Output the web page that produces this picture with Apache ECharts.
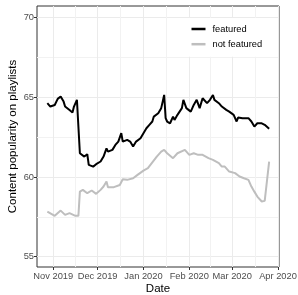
<!DOCTYPE html>
<html>
<head>
<meta charset="utf-8">
<script src="https://cdn.jsdelivr.net/npm/echarts@6/dist/echarts.min.js"></script>
<style>
  html, body { margin: 0; padding: 0; background: #fff; }
  #chart { width: 298px; height: 295px; }
</style>
</head>
<body>
<div id="chart"></div>
<script>
const featuredDates = [
  '2019-10-28','2019-10-30','2019-11-02','2019-11-04','2019-11-06','2019-11-08','2019-11-09','2019-11-10',
  '2019-11-12','2019-11-14','2019-11-15','2019-11-17','2019-11-18','2019-11-19','2019-11-20','2019-11-22',
  '2019-11-24','2019-11-25','2019-11-28','2019-11-30','2019-12-03','2019-12-05','2019-12-07','2019-12-08',
  '2019-12-11','2019-12-13','2019-12-15','2019-12-17','2019-12-18','2019-12-21','2019-12-23','2019-12-25',
  '2019-12-27','2019-12-30','2020-01-01','2020-01-03','2020-01-05','2020-01-07','2020-01-08','2020-01-11',
  '2020-01-12','2020-01-13','2020-01-14','2020-01-15','2020-01-16','2020-01-17','2020-01-19','2020-01-21',
  '2020-01-22','2020-01-24','2020-01-27','2020-01-28','2020-01-30','2020-02-02','2020-02-04','2020-02-06',
  '2020-02-08','2020-02-10','2020-02-13','2020-02-15','2020-02-17','2020-02-18','2020-02-21','2020-02-23',
  '2020-02-24','2020-02-26','2020-02-28','2020-03-02','2020-03-04','2020-03-05','2020-03-08','2020-03-12',
  '2020-03-14','2020-03-16','2020-03-18','2020-03-21','2020-03-23','2020-03-26'
];
const featuredValues = [
  64.63, 64.42, 64.52, 64.90, 65.05, 64.73, 64.42, 64.52,
  64.20, 64.04, 64.42, 64.84, 64.94, 61.49, 61.39, 61.28,
  61.43, 60.76, 60.65, 60.80, 60.97, 61.28, 61.80, 61.59,
  61.70, 62.01, 62.22, 62.75, 62.22, 62.33, 62.22, 61.91,
  62.22, 62.43, 62.75, 63.06, 63.27, 63.48, 63.79, 64.00,
  64.10, 64.32, 64.73, 65.15, 63.69, 63.48, 63.37, 63.79,
  63.58, 63.90, 64.32, 64.84, 64.32, 64.10, 64.52, 64.84,
  64.32, 64.94, 64.63, 64.84, 65.15, 64.84, 64.63, 64.42,
  64.42, 64.21, 64.10, 63.90, 63.48, 63.73, 63.69, 63.69,
  63.48, 63.16, 63.37, 63.37, 63.27, 63.02
];

const notFeaturedDates = [
  '2019-10-28','2019-11-02','2019-11-06','2019-11-09','2019-11-12','2019-11-16','2019-11-18','2019-11-19',
  '2019-11-21','2019-11-24','2019-11-27','2019-11-30','2019-12-03','2019-12-05','2019-12-07','2019-12-08',
  '2019-12-12','2019-12-16','2019-12-18','2019-12-21','2019-12-25','2019-12-28','2020-01-01','2020-01-04',
  '2020-01-10','2020-01-13','2020-01-15','2020-01-17','2020-01-21','2020-01-24','2020-01-29','2020-02-01',
  '2020-02-04','2020-02-07','2020-02-10','2020-02-14','2020-02-17','2020-02-21','2020-02-23','2020-02-25',
  '2020-02-28','2020-03-03','2020-03-06','2020-03-09','2020-03-12','2020-03-14','2020-03-16','2020-03-18',
  '2020-03-21','2020-03-23','2020-03-24','2020-03-26'
];
const notFeaturedValues = [
  57.83, 57.56, 57.89, 57.62, 57.73, 57.56, 57.56, 59.08,
  59.19, 58.98, 59.15, 58.94, 59.19, 59.40, 59.71, 59.36,
  59.36, 59.50, 59.86, 59.82, 59.92, 60.13, 60.40, 60.55,
  61.28, 61.59, 61.70, 61.49, 61.18, 61.49, 61.70, 61.39,
  61.49, 61.39, 61.39, 61.18, 61.07, 60.87, 60.65, 60.65,
  60.34, 60.24, 60.03, 59.92, 59.82, 59.40, 59.08, 58.77,
  58.46, 58.50, 58.60, 60.97
];

const xTickDates = ['2019-11-01','2019-12-01','2020-01-01','2020-02-01','2020-03-01','2020-04-01'];
const xTickLabels = ['Nov 2019','Dec 2019','Jan 2020','Feb 2020','Mar 2020','Apr 2020'];
const xMinorDates = ['2019-11-16','2019-12-16 12:00','2020-01-16 12:00','2020-02-15','2020-03-16 12:00'];
const yTicks = [55, 60, 65, 70];
const yMinor = [57.5, 62.5, 67.5];

const parse = s => +echarts.time.parse(s);
const xTickTimes = xTickDates.map(parse);

function pairs(dates, values) {
  return dates.map((d, i) => [parse(d), values[i]]);
}

const font = 'Liberation Sans, Arial, sans-serif';
const major = { color: '#ebebeb', width: 1, type: 'solid' };
const minor = { color: '#f2f2f2', width: 1, type: 'solid' };

const gridLines = []
  .concat(yTicks.map(v => ({ yAxis: v, lineStyle: major })))
  .concat(yMinor.map(v => ({ yAxis: v, lineStyle: minor })))
  .concat(xTickDates.map(v => ({ xAxis: parse(v), lineStyle: major })))
  .concat(xMinorDates.map(v => ({ xAxis: parse(v), lineStyle: minor })));

const chart = echarts.init(document.getElementById('chart'), null, { renderer: 'canvas' });
chart.setOption({
  animation: false,
  textStyle: { fontFamily: font },
  grid: {
    left: 37, right: 19, top: 6, bottom: 28,
    outerBoundsMode: 'none',
    containLabel: false,
    show: true, backgroundColor: '#fff', borderColor: '#333', borderWidth: 1
  },
  legend: {
    data: ['featured', 'not featured'],
    orient: 'vertical',
    left: 187, top: 18,
    padding: [6.5, 6, 8, 4.5],
    backgroundColor: '#fff',
    icon: 'rect',
    itemWidth: 14, itemHeight: 2.5, itemGap: 6.2,
    textStyle: { fontFamily: font, fontSize: 9.3, color: '#000', padding: [0, 0, 0, 2] }
  },
  xAxis: {
    type: 'value',
    min: parse('2019-10-21'),
    max: parse('2020-04-01 16:00'),
    name: 'Date',
    nameLocation: 'middle',
    nameGap: 16,
    nameMoveOverlap: false,
    nameTextStyle: { fontFamily: font, fontSize: 11.5, color: '#000' },
    axisLine: { show: false },
    axisTick: { show: true, length: 3, customValues: xTickTimes, lineStyle: { color: '#333' } },
    axisLabel: {
      customValues: xTickTimes,
      margin: 5,
      fontFamily: font, fontSize: 9.3, color: '#4d4d4d',
      formatter: v => {
        const i = xTickTimes.indexOf(+v);
        return i >= 0 ? xTickLabels[i] : '';
      }
    },
    splitLine: { show: false }
  },
  yAxis: {
    type: 'value',
    min: 54.35,
    max: 70.73,
    name: 'Content popularity on playlists',
    nameLocation: 'middle',
    nameGap: 18.5,
    nameMoveOverlap: false,
    nameTextStyle: { fontFamily: font, fontSize: 11.5, color: '#000' },
    axisLine: { show: false },
    axisTick: { show: true, length: 3, customValues: yTicks, lineStyle: { color: '#333' } },
    axisLabel: {
      customValues: yTicks,
      margin: 3,
      fontFamily: font, fontSize: 9.3, color: '#4d4d4d'
    },
    splitLine: { show: false }
  },
  series: [
    {
      name: 'grid',
      type: 'line',
      z: 1,
      silent: true,
      data: pairs(notFeaturedDates, notFeaturedValues),
      symbol: 'none',
      lineStyle: { opacity: 0 },
      markLine: {
        z: 1,
        silent: true,
        symbol: 'none',
        label: { show: false },
        emphasis: { disabled: true },
        data: gridLines
      }
    },
    {
      name: 'not featured',
      type: 'line',
      z: 3,
      data: pairs(notFeaturedDates, notFeaturedValues),
      symbol: 'none',
      lineStyle: { color: '#bebebe', width: 2 },
      itemStyle: { color: '#bebebe' }
    },
    {
      name: 'featured',
      type: 'line',
      z: 4,
      data: pairs(featuredDates, featuredValues),
      symbol: 'none',
      lineStyle: { color: '#000', width: 2 },
      itemStyle: { color: '#000' }
    }
  ]
});
</script>
</body>
</html>
